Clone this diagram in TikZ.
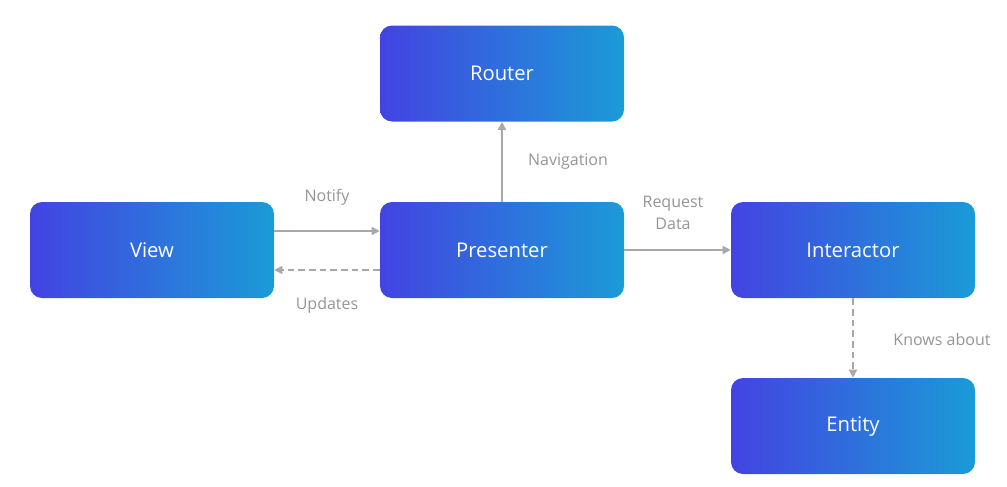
\documentclass[tikz,border=0pt]{standalone}
\usepackage{fontspec}
\setmainfont{Open Sans}
\usetikzlibrary{arrows.meta}
\definecolor{bL}{HTML}{4343E2}
\definecolor{bR}{HTML}{1B9BD7}
\definecolor{ln}{HTML}{A8A8A8}
\definecolor{lb}{HTML}{959595}
\tikzset{
  box/.style={rounded corners=9pt, left color=bL, right color=bR, draw=none,
    minimum width=183pt, minimum height=72pt, inner sep=0pt,
    text=white, font=\fontsize{15.2}{18}\selectfont},
  conn/.style={draw=ln, line width=1pt, -{Triangle[length=6pt,width=6pt]}},
  dconn/.style={conn, dash pattern=on 5pt off 3pt},
  lbl/.style={text=lb, font=\fontsize{12}{14}\selectfont, align=center}
}
\begin{document}
\begin{tikzpicture}[x=0.75pt,y=-0.75pt]
\useasboundingbox (0,0) rectangle (1007,486);
\node[box] (router) at (502,73.5) {Router};
\node[box] (view) at (152,250) {View};
\node[box] (pres) at (502,250) {Presenter};
\node[box] (inter) at (853,250) {Interactor};
\node[box] (ent) at (853,426) {Entity};
\coordinate (a1) at (274,231); \coordinate (a2) at (380,231);
\coordinate (b1) at (380,270); \coordinate (b2) at (274,270);
\draw[conn] (view.east |- a1) -- (pres.west |- a2);
\draw[dconn] (pres.west |- b1) -- (view.east |- b2);
\draw[conn] (pres.north) -- (router.south);
\draw[conn] (pres.east) -- (inter.west);
\draw[dconn] (inter.south) -- (ent.north);
\node[lbl] (ln1) at (327,197) {Notify};
\node[lbl] (ln2) at (327,305) {Updates};
\node[lbl] (ln3) at (568,162) {Navigation};
\node[lbl, font=\fontsize{12}{17}\selectfont] (ln4) at (673,213) {Request\\Data};
\node[lbl] (ln5) at (942,339) {Knows about};
\end{tikzpicture}
\end{document}
